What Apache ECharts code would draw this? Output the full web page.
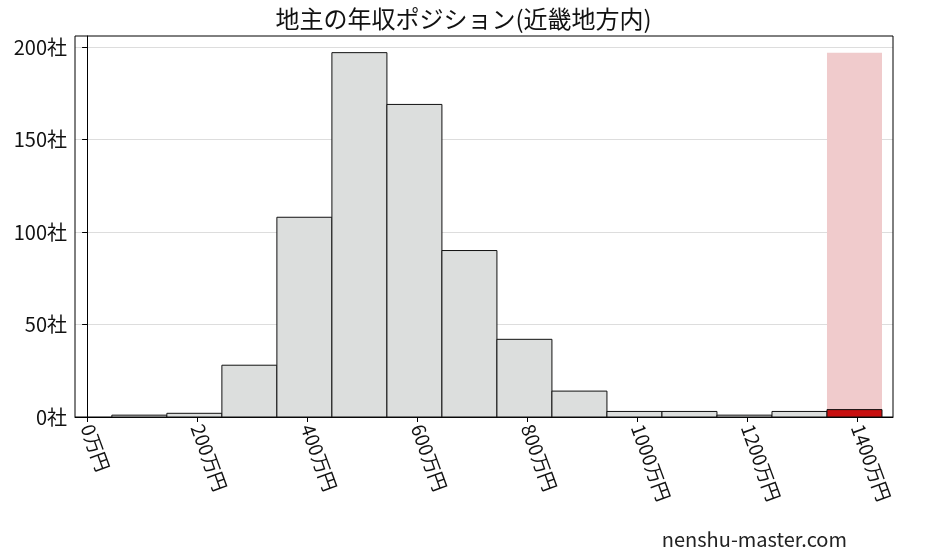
<!DOCTYPE html>
<html>
<head>
<meta charset="UTF-8">
<script src="https://cdn.jsdelivr.net/npm/echarts@6/dist/echarts.min.js"></script>
</head>
<body style="margin:0">
<div id="chart" style="width:927px;height:557px;"></div>
<script>
    // 年収の階級（万円）
    var binStart = [45, 145, 245, 345, 445, 545, 645, 745, 845, 945, 1045, 1145, 1245, 1345];
    var binEnd   = [145, 245, 345, 445, 545, 645, 745, 845, 945, 1045, 1145, 1245, 1345, 1445];
    var counts   = [1, 2, 28, 108, 197, 169, 90, 42, 14, 3, 3, 1, 3, 0];
    // 該当階級のハイライト
    var hiStart = [1345], hiEnd = [1445], hiBack = [197], hiValue = [4];
    var xTicks = [0, 200, 400, 600, 800, 1000, 1200, 1400];
    var yTicks = [0, 50, 100, 150, 200];

    var font = '"Noto Sans CJK JP", serif';

    function rectItem(fill, stroke) {
        return function (params, api) {
            var p0 = api.coord([api.value(0), 0]);
            var p1 = api.coord([api.value(1), api.value(2)]);
            return {
                type: 'rect',
                shape: {x: p0[0], y: p1[1], width: p1[0] - p0[0], height: p0[1] - p1[1]},
                style: {fill: fill, stroke: stroke, lineWidth: stroke ? 1 : 0}
            };
        };
    }

    var histData = [], backData = [], redData = [];
    for (var i = 0; i < binStart.length; i++) {
        if (counts[i] > 0) histData.push([binStart[i], binEnd[i], counts[i]]);
    }
    for (var j = 0; j < hiStart.length; j++) {
        backData.push([hiStart[j], hiEnd[j], hiBack[j]]);
        redData.push([hiStart[j], hiEnd[j], hiValue[j]]);
    }

    var option = {
        title: {
            text: '地主の年収ポジション(近畿地方内)',
            left: 'center', top: 2,
            textStyle: {fontFamily: font, fontSize: 24, fontWeight: 'normal', color: '#111'}
        },
        graphic: [{
            type: 'text', right: 80, bottom: 8,
            style: {text: 'nenshu-master.com', font: '20px ' + font, fill: '#222'}
        }],
        grid: {left: 75, right: 34, top: 36, bottom: 140},
        xAxis: {
            type: 'value', min: -22, max: 1465,
            interval: 200,
            axisLine: {show: true, onZero: false, lineStyle: {color: '#000'}},
            axisTick: {show: true, length: 5, lineStyle: {color: '#000'}},
            splitLine: {show: false},
            axisLabel: {
                rotate: -70, fontFamily: font, fontSize: 19, color: '#111', margin: 8,
                customValues: xTicks,
                formatter: function (v) { return v + '万円'; }
            },
            axisTick: {show: true, customValues: xTicks, length: 5, lineStyle: {color: '#000'}}
        },
        yAxis: {
            type: 'value', min: 0, max: 206,
            axisLine: {show: true, lineStyle: {color: '#000'}},
            axisTick: {show: true, customValues: yTicks, length: 5, lineStyle: {color: '#000'}},
            axisLabel: {
                customValues: yTicks, fontFamily: font, fontSize: 20, color: '#111',
                formatter: function (v) { return v + '社'; }
            },
            splitLine: {show: true, lineStyle: {color: '#dddddd'}}
        },
        series: [
            {type: 'custom', renderItem: rectItem('#f0cbcc', null), data: backData, encode: {x: [0, 1], y: 2}, silent: true},
            {type: 'custom', renderItem: rectItem('#dcdedd', '#111'), data: histData, encode: {x: [0, 1], y: 2}},
            {type: 'custom', renderItem: rectItem('#c81010', '#111'), data: redData, encode: {x: [0, 1], y: 2}},
            {
                type: 'line', data: [], silent: true,
                markArea: {silent: true, itemStyle: {color: 'rgba(0,0,0,0)', borderColor: '#000', borderWidth: 1},
                    data: [[{coord: [-22, 0]}, {coord: [1465, 206]}]]}
            }
        ]
    };

    var myChart = echarts.init(document.getElementById('chart'));
    myChart.setOption(option);
</script>
</body>
</html>
